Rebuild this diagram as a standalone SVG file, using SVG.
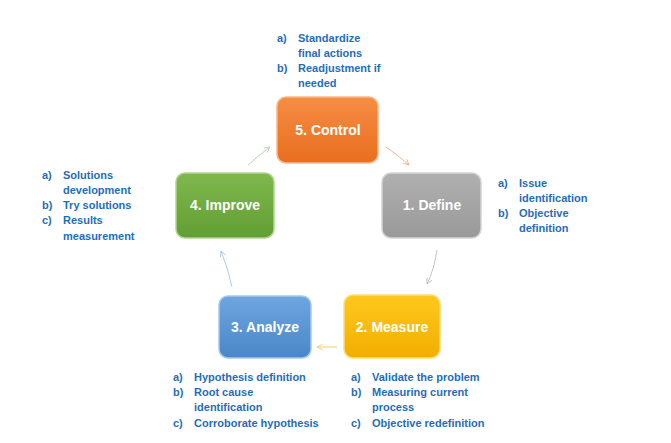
<svg xmlns="http://www.w3.org/2000/svg" width="671" height="443" viewBox="0 0 671 443">
<defs>
<style>
.lbl{font-family:"Liberation Sans",Arial,sans-serif;font-weight:bold;font-size:14px;fill:#ffffff;text-anchor:middle}
.note{font-family:"Liberation Sans",Arial,sans-serif;font-weight:bold;font-size:11px;fill:#1F6DBA}
.box{stroke-width:1.5}
.conn{fill:none;stroke-width:0.9}
</style>
<linearGradient id="gO" x1="0" y1="0" x2="0" y2="1"><stop offset="0" stop-color="#F68D45"/><stop offset="1" stop-color="#E96E1E"/></linearGradient>
<linearGradient id="gG" x1="0" y1="0" x2="0" y2="1"><stop offset="0" stop-color="#B0B0B0"/><stop offset="1" stop-color="#999999"/></linearGradient>
<linearGradient id="gY" x1="0" y1="0" x2="0" y2="1"><stop offset="0" stop-color="#FFC81E"/><stop offset="1" stop-color="#F2AE00"/></linearGradient>
<linearGradient id="gB" x1="0" y1="0" x2="0" y2="1"><stop offset="0" stop-color="#6EA6DF"/><stop offset="1" stop-color="#4A86C8"/></linearGradient>
<linearGradient id="gN" x1="0" y1="0" x2="0" y2="1"><stop offset="0" stop-color="#80B84E"/><stop offset="1" stop-color="#619E33"/></linearGradient>
<marker id="aO" viewBox="0 0 10 10" refX="9" refY="5" markerWidth="7" markerHeight="7" orient="auto" markerUnits="userSpaceOnUse"><path d="M1,1 L9,5 L1,9" fill="none" stroke="#F2AE86" stroke-width="1.2"/></marker>
<marker id="aG" viewBox="0 0 10 10" refX="9" refY="5" markerWidth="7" markerHeight="7" orient="auto" markerUnits="userSpaceOnUse"><path d="M1,1 L9,5 L1,9" fill="none" stroke="#BDBDBD" stroke-width="1.2"/></marker>
<marker id="aY" viewBox="0 0 10 10" refX="9" refY="5" markerWidth="7" markerHeight="7" orient="auto" markerUnits="userSpaceOnUse"><path d="M1,1 L9,5 L1,9" fill="none" stroke="#F5C85A" stroke-width="1.2"/></marker>
<marker id="aB" viewBox="0 0 10 10" refX="9" refY="5" markerWidth="7" markerHeight="7" orient="auto" markerUnits="userSpaceOnUse"><path d="M1,1 L9,5 L1,9" fill="none" stroke="#A9C4E2" stroke-width="1.2"/></marker>
<marker id="aN" viewBox="0 0 10 10" refX="9" refY="5" markerWidth="7" markerHeight="7" orient="auto" markerUnits="userSpaceOnUse"><path d="M1,1 L9,5 L1,9" fill="none" stroke="#B8CDA8" stroke-width="1.2"/></marker>
</defs>
<rect width="671" height="443" fill="#ffffff"/>

<g id="connectors">
<path class="conn" d="M386,147 Q398,155 409,165" stroke="#F2AE86" marker-end="url(#aO)"/>
<path class="conn" d="M437,250 Q434,270 427,284" stroke="#BDBDBD" marker-end="url(#aG)"/>
<path class="conn" d="M337,347 L317,347" stroke="#F5C85A" marker-end="url(#aY)"/>
<path class="conn" d="M232,287 Q228,268 221,251" stroke="#A9C4E2" marker-end="url(#aB)"/>
<path class="conn" d="M248,165 Q259,155 270,147" stroke="#B8CDA8" marker-end="url(#aN)"/>
</g>

<g id="control">
<rect class="box" x="277" y="97" width="101" height="66" rx="9" fill="url(#gO)" stroke="#F9B98C"/>
<text class="lbl" x="328" y="135">5. Control</text>
<text class="note"><tspan x="277" y="42">a)</tspan><tspan x="298" y="42">Standardize</tspan><tspan x="298" y="57">final actions</tspan><tspan x="277" y="72">b)</tspan><tspan x="298" y="72">Readjustment if</tspan><tspan x="298" y="87">needed</tspan></text>
</g>

<g id="define">
<rect class="box" x="382" y="173" width="99" height="65" rx="9" fill="url(#gG)" stroke="#D4D4D4"/>
<text class="lbl" x="432" y="210">1. Define</text>
<text class="note"><tspan x="498" y="187">a)</tspan><tspan x="519" y="187">Issue</tspan><tspan x="519" y="202">identification</tspan><tspan x="498" y="217">b)</tspan><tspan x="519" y="217">Objective</tspan><tspan x="519" y="232">definition</tspan></text>
</g>

<g id="measure">
<rect class="box" x="344" y="295" width="96" height="63" rx="9" fill="url(#gY)" stroke="#FFDD7A"/>
<text class="lbl" x="392" y="332">2. Measure</text>
<text class="note"><tspan x="351" y="381">a)</tspan><tspan x="372" y="381">Validate the problem</tspan><tspan x="351" y="396">b)</tspan><tspan x="372" y="396">Measuring current</tspan><tspan x="372" y="411">process</tspan><tspan x="351" y="427">c)</tspan><tspan x="372" y="427">Objective redefinition</tspan></text>
</g>

<g id="analyze">
<rect class="box" x="219" y="296" width="92" height="62" rx="9" fill="url(#gB)" stroke="#A6C8EC"/>
<text class="lbl" x="265" y="332">3. Analyze</text>
<text class="note"><tspan x="173" y="381">a)</tspan><tspan x="194" y="381">Hypothesis definition</tspan><tspan x="173" y="396">b)</tspan><tspan x="194" y="396">Root cause</tspan><tspan x="194" y="411">identification</tspan><tspan x="173" y="427">c)</tspan><tspan x="194" y="427">Corroborate hypothesis</tspan></text>
</g>

<g id="improve">
<rect class="box" x="176" y="173" width="98" height="65" rx="9" fill="url(#gN)" stroke="#B2D58F"/>
<text class="lbl" x="225" y="210">4. Improve</text>
<text class="note"><tspan x="42" y="179">a)</tspan><tspan x="63" y="179">Solutions</tspan><tspan x="63" y="194">development</tspan><tspan x="42" y="209">b)</tspan><tspan x="63" y="209">Try solutions</tspan><tspan x="42" y="224">c)</tspan><tspan x="63" y="224">Results</tspan><tspan x="63" y="240">measurement</tspan></text>
</g>
</svg>
